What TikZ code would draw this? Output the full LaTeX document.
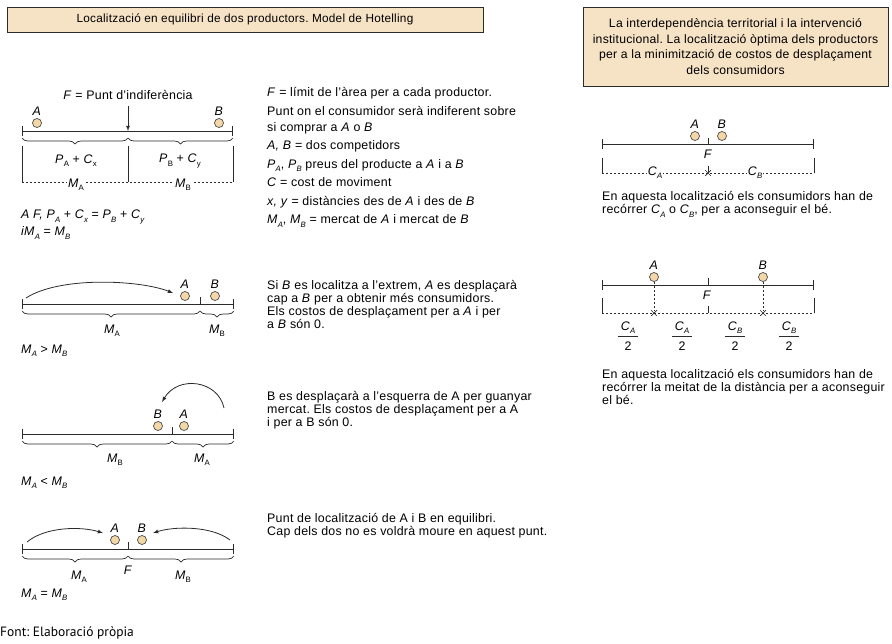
\documentclass[tikz,border=0pt]{standalone}
\usepackage{fontspec}
\setmainfont{Liberation Sans}[LetterSpace=2]
\newfontfamily\sourcefont{PT Sans}
\usepackage{tikz}
\usetikzlibrary{shapes,arrows,arrows.meta,positioning,decorations.pathreplacing,shadows}
\frenchspacing

\definecolor{boxfill}{HTML}{F6E2C4}
\definecolor{dotfill}{HTML}{F4D7A6}
\definecolor{ink}{HTML}{2B2B2B}

\newcommand{\lo}[1]{\raisebox{-0.5ex}{\fontsize{7.8}{8}\selectfont #1}}
\newcommand{\ilo}[1]{\lo{\itshape #1}}
\newcommand{\vi}[1]{\textit{#1}}

\begin{document}
\begin{tikzpicture}[x=1pt,y=-1pt,
    font=\fontsize{12.4}{13}\selectfont,
    every node/.style={inner sep=1pt},
    head/.style={draw=ink,line width=0.9pt,fill=boxfill,align=center,
      drop shadow={shadow xshift=1.2pt,shadow yshift=-1.2pt,opacity=.6}},
    segment/.style={draw=ink,line width=0.9pt,{Bar[width=10pt]}-{Bar[width=10pt]}},
    notch/.style={draw=ink,line width=0.9pt},
    firm/.style={circle,draw=ink!85,fill=dotfill,line width=0.7pt,minimum size=9pt,inner sep=0pt},
    brace/.style={draw=ink,line width=0.7pt,decorate,decoration={brace,mirror,amplitude=6pt}},
    guide/.style={draw=ink,line width=0.7pt},
    dotline/.style={draw=ink,line width=0.8pt,dash pattern=on 2pt off 2pt},
    move/.style={draw=ink,line width=0.8pt,-latex},
    xmark/.style={cross out,draw=ink,line width=0.7pt,minimum size=5pt,inner sep=0pt},
    txt/.style={anchor=north west,align=left,inner sep=0pt}]
\useasboundingbox (0,0) rectangle (892,643);

% titles
\node[head,minimum width=476pt,minimum height=25pt,font=\fontsize{11.8}{13}\selectfont] (title1) at (245,19.5)
  {Localització en equilibri de dos productors. Model de Hotelling};
\node[head,minimum width=305pt,minimum height=79pt,font=\fontsize{12.2}{15.5}\selectfont] (title2) at (735.5,46.5)
  {La interdependència territorial i la intervenció\\institucional. La localització òptima dels productors\\per a la minimització de costos de desplaçament\\dels consumidors};

% --- model: indifference point
\node (ptxt) at (128,95) {\vi{F} = Punt d'indiferència};
\draw[segment] (22,131) -- (233,131);
\coordinate (f1) at (128,131);
\coordinate (ftop) at (128,106);
\draw[move] (ftop) -- (f1);
\node[firm] (a1) at (37,123) {};
\node[above=1pt of a1] (la1) {\vi{A}};
\node[firm] (b1) at (219,123) {};
\node[above=1pt of b1] (lb1) {\vi{B}};
\draw[brace] (22,138) -- (128,138);
\draw[brace] (128,138) -- (233,138);
\draw[guide] (22,146) -- (22,182);
\draw[guide] (128,146) -- (128,182);
\draw[guide] (233,146) -- (233,182);
\node (pa1) at (76,161) {\vi{P}\lo{A} + \vi{C}\lo{x}};
\node (pb1) at (180,161) {\vi{P}\lo{B} + \vi{C}\lo{y}};
\draw[dotline] (22,182) -- (233,182);
\node[fill=white] (ma1) at (76,185) {\vi{M}\lo{A}};
\node[fill=white] (mb1) at (183,185) {\vi{M}\lo{B}};
\node[anchor=west] (eq1) at (20,217) {\vi{A F, P}\ilo{A} + \vi{C}\ilo{x} = \vi{P}\ilo{B} + \vi{C}\ilo{y}};
\node[anchor=west] (eq2) at (20,233) {\vi{iM}\ilo{A} = \vi{M}\ilo{B}};

\node[txt,font=\fontsize{12.4}{16}\selectfont] (legend) at (267,87.5)
  {\vi{F} = límit de l'àrea per a cada productor.\\[2.5pt]
   Punt on el consumidor serà indiferent sobre\\
   si comprar a \vi{A} o \vi{B}\\[2.5pt]
   \vi{A, B} = dos competidors\\[2.5pt]
   \vi{P}\ilo{A}, \vi{P}\ilo{B} preus del producte a \vi{A} i a \vi{B}\\[2.5pt]
   \vi{C} = cost de moviment\\[2.5pt]
   \vi{x, y} = distàncies des de \vi{A} i des de \vi{B}\\[2.5pt]
   \vi{M}\ilo{A}, \vi{M}\ilo{B} = mercat de \vi{A} i mercat de \vi{B}};

% --- A moves towards B
\draw[segment] (22,304) -- (234,304);
\draw[notch] (200,304) -- (200,297);
\node[firm] (a2) at (185,296) {};
\node[above=1pt of a2] (la2) {\vi{A}};
\node[firm] (b2) at (215,296) {};
\node[above=1pt of b2] (lb2) {\vi{B}};
\coordinate (go2) at (26,298);
\coordinate (to2) at (173,293);
\draw[move] (go2) .. controls (60,276) and (140,280) .. (to2);
\draw[brace] (22,311) -- (200,311);
\draw[brace] (200,311) -- (234,311);
\node (ma2) at (112,331) {\vi{M}\lo{A}};
\node (mb2) at (217,331) {\vi{M}\lo{B}};
\node[anchor=west] (eq3) at (20,351) {\vi{M}\ilo{A} > \vi{M}\ilo{B}};
\node[txt] (note2) at (267,280.5)
  {Si \vi{B} es localitza a l'extrem, \vi{A} es desplaçarà\\
   cap a \vi{B} per a obtenir més consumidors.\\
   Els costos de desplaçament per a \vi{A} i per\\
   a \vi{B} són 0.};

% --- B jumps to the left of A
\draw[segment] (22,434) -- (234,434);
\draw[notch] (172,434) -- (172,427);
\node[firm] (b3) at (158,426) {};
\node[above=1pt of b3] (lb3) {\vi{B}};
\node[firm] (a3) at (184,426) {};
\node[above=1pt of a3] (la3) {\vi{A}};
\coordinate (go3) at (224,408);
\coordinate (to3) at (162,402);
\draw[move] (go3) .. controls (218,380) and (178,375) .. (to3);
\draw[brace] (22,441) -- (172,441);
\draw[brace] (172,441) -- (234,441);
\node (mb3) at (115,460) {\vi{M}\lo{B}};
\node (ma3) at (202,460) {\vi{M}\lo{A}};
\node[anchor=west] (eq4) at (20,483) {\vi{M}\ilo{A} < \vi{M}\ilo{B}};
\node[txt] (note3) at (267,391.5)
  {B es desplaçarà a l'esquerra de A per guanyar\\
   mercat. Els costos de desplaçament per a A\\
   i per a B són 0.};

% --- equilibrium
\draw[segment] (22,549) -- (234,549);
\draw[notch] (128,549) -- (128,542);
\node[firm] (a4) at (115,540) {};
\node[above=1pt of a4] (la4) {\vi{A}};
\node[firm] (b4) at (142,540) {};
\node[above=1pt of b4] (lb4) {\vi{B}};
\coordinate (go4l) at (27,542);
\coordinate (to4l) at (103,533);
\coordinate (go4r) at (230,540);
\coordinate (to4r) at (153,533);
\draw[move] (go4l) .. controls (45,527) and (80,526) .. (to4l);
\draw[move] (go4r) .. controls (212,526) and (175,526) .. (to4r);
\draw[brace] (22,556) -- (128,556);
\draw[brace] (128,556) -- (234,556);
\node (ma4) at (79,577) {\vi{M}\lo{A}};
\node (f4) at (128,570) {\vi{F}};
\node (mb4) at (183,577) {\vi{M}\lo{B}};
\node[anchor=west] (eq5) at (20,595) {\vi{M}\ilo{A} = \vi{M}\ilo{B}};
\node[txt] (note4) at (267,513.5)
  {Punt de localització de A i B en equilibri.\\
   Cap dels dos no es voldrà moure en aquest punt.};

\node[anchor=west,inner sep=0pt,font=\sourcefont\fontsize{13.5}{15}\selectfont] (source) at (0,633) {Font: Elaboració pròpia};

% --- right: both in the centre
\draw[segment] (602,144) -- (814,144);
\draw[notch] (708,144) -- (708,138);
\node[firm] (a5) at (695,136) {};
\node[above=1pt of a5] (la5) {\vi{A}};
\node[firm] (b5) at (722,136) {};
\node[above=1pt of b5] (lb5) {\vi{B}};
\node (f5) at (708,154) {\vi{F}};
\draw[guide] (602,158) -- (602,173);
\draw[guide] (814,158) -- (814,173);
\draw[dotline] (602,173) -- (814,173);
\draw[guide] (708,166) -- (708,173);
\node[xmark] (x5) at (708,173) {};
\node[fill=white] (ca5) at (655,173) {\vi{C}\ilo{A}};
\node[fill=white] (cb5) at (755,173) {\vi{C}\ilo{B}};
\node[txt] (note5) at (602,191.5)
  {En aquesta localització els consumidors han de\\
   recórrer \vi{C}\ilo{A} o \vi{C}\ilo{B}, per a aconseguir el bé.};

% --- right: optimal locations
\draw[segment] (602,285) -- (814,285);
\draw[notch] (708,285) -- (708,278);
\node[firm] (a6) at (654,277) {};
\node[above=1pt of a6] (la6) {\vi{A}};
\node[firm] (b6) at (763,277) {};
\node[above=1pt of b6] (lb6) {\vi{B}};
\node (f6) at (707,295) {\vi{F}};
\draw[guide] (602,298) -- (602,313);
\draw[guide] (814,298) -- (814,313);
\draw[guide] (708,306) -- (708,313);
\draw[dotline] (602,313) -- (814,313);
\node[xmark] (x6a) at (654,313) {};
\node[xmark] (x6b) at (763,313) {};
\draw[dotline] (a6.south) -- (x6a);
\draw[dotline] (b6.south) -- (x6b);
\foreach \x/\s [count=\i] in {628/A,682/A,735/B,789/B}{
  \node (num\i) at (\x,328) {\vi{C}\ilo{\s}};
  \draw[guide] (\x-10,336) -- (\x+10,336);
  \node (den\i) at (\x,346) {2};
}
\node[txt] (note6) at (602,369.5)
  {En aquesta localització els consumidors han de\\
   recórrer la meitat de la distància per a aconseguir\\
   el bé.};
\end{tikzpicture}
\end{document}
